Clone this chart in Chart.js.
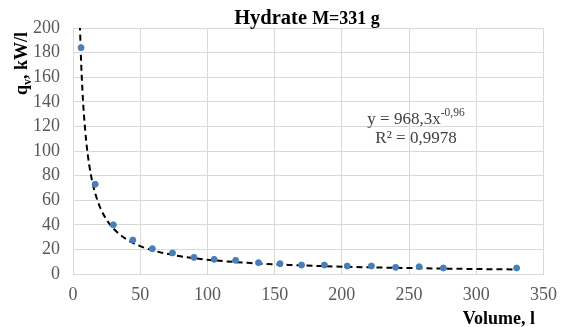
<!DOCTYPE html>
<html>
<head>
<meta charset="utf-8">
<script src="https://cdn.jsdelivr.net/npm/chart.js@4.4.3/dist/chart.umd.min.js"></script>
<style>
  html, body { margin: 0; padding: 0; background: #fff; }
  #wrap { width: 567px; height: 327px; }
</style>
</head>
<body>
<div id="wrap"><canvas id="c" width="567" height="327"></canvas></div>
<script>
// measured points: volume (l) vs specific power (kW/l)
const volume = [6, 16.5, 30, 44.5, 59, 74, 90, 105, 121, 138, 154, 170, 187, 204, 222, 240, 257.5, 275.5, 330];
const power = [184, 73, 40, 27.6, 20.6, 17.1, 13.5, 11.9, 11.1, 9.2, 8.4, 7.3, 7.3, 6.5, 6.5, 5.4, 5.9, 4.9, 4.9];

// power trendline
const trendX = [5.1, 6, 7, 8, 10, 12, 15, 20, 25, 30, 40, 50, 60, 80, 100, 130, 160, 200, 250, 300, 330];
const trendY = [202.7, 173.4, 149.5, 131.5, 106.2, 89.1, 71.9, 54.6, 44.1, 37.0, 28.1, 22.7, 19.0, 14.4, 11.6, 9.05, 7.41, 5.98, 4.83, 4.05, 3.7];

const xTicks = [0, 50, 100, 150, 200, 250, 300, 350];
const yTicks = [0, 20, 40, 60, 80, 100, 120, 140, 160, 180, 200];

const SERIF = "'Liberation Serif', 'Times New Roman', serif";

// ---------- texts drawn on the canvas ----------
const textPlugin = {
  id: "texts",
  afterDraw(chart) {
    const ctx = chart.ctx;
    const area = chart.chartArea;
    ctx.save();
    ctx.fillStyle = "#000";
    ctx.textBaseline = "alphabetic";

    // title: "Hydrate" bigger, "M=331 g" smaller
    const t1 = "Hydrate ", t2 = "M=331 g";
    ctx.font = "bold 20.5px " + SERIF;
    const w1 = ctx.measureText(t1).width;
    ctx.font = "bold 18px " + SERIF;
    const w2 = ctx.measureText(t2).width;
    const tx = 307 - (w1 + w2) / 2;
    ctx.font = "bold 20.5px " + SERIF;
    ctx.textAlign = "left";
    ctx.fillText(t1, tx, 24);
    ctx.font = "bold 18px " + SERIF;
    ctx.fillText(t2, tx + w1, 24);

    // y title, rotated, with subscript v
    ctx.save();
    ctx.translate(27, 95);
    ctx.rotate(-Math.PI / 2);
    ctx.textAlign = "left";
    ctx.font = "bold 18px " + SERIF;
    ctx.fillText("q", 0, 0);
    let x = ctx.measureText("q").width;
    ctx.font = "bold 12px " + SERIF;
    ctx.fillText("v", x, 4);
    x += ctx.measureText("v").width;
    ctx.font = "bold 18px " + SERIF;
    ctx.fillText(", kW/l", x, 0);
    ctx.restore();

    // x title
    ctx.font = "bold 18px " + SERIF;
    ctx.textAlign = "right";
    ctx.fillText("Volume, l", 535, 324);

    // fit annotation
    ctx.fillStyle = "#404040";
    ctx.textAlign = "left";
    ctx.font = "17px " + SERIF;
    const eq = "y = 968,3x";
    const ex = "-0,96";
    const we = ctx.measureText(eq).width;
    ctx.font = "11.5px " + SERIF;
    const wx = ctx.measureText(ex).width;
    const ax = 416 - (we + wx) / 2;
    ctx.font = "17px " + SERIF;
    ctx.fillText(eq, ax, 124);
    ctx.font = "11.5px " + SERIF;
    ctx.fillText(ex, ax + we, 116);
    ctx.font = "17px " + SERIF;
    ctx.textAlign = "center";
    ctx.fillText("R² = 0,9978", 416, 143);
    ctx.restore();
  }
};

new Chart(document.getElementById("c"), {
  type: "scatter",
  data: {
    datasets: [
      {
        label: "trend",
        data: trendX.map((v, i) => ({ x: v, y: trendY[i] })),
        showLine: true,
        borderColor: "#000",
        borderWidth: 2,
        borderDash: [6, 4],
        pointRadius: 0,
        cubicInterpolationMode: "monotone",
        fill: false,
        order: 2,
      },
      {
        label: "data",
        data: volume.map((v, i) => ({ x: v, y: power[i] })),
        backgroundColor: "#4a7ebb",
        borderColor: "#4a7ebb",
        pointRadius: 3,
        order: 1,
      },
    ],
  },
  options: {
    responsive: false,
    animation: false,
    devicePixelRatio: 1,
    layout: { padding: { top: 28, right: 22, left: 0, bottom: 0 } },
    plugins: {
      legend: { display: false },
      tooltip: { enabled: false },
    },
    scales: {
      x: {
        type: "linear",
        min: 0,
        max: 350,
        afterBuildTicks: (s) => { s.ticks = xTicks.map((v) => ({ value: v })); },
        afterFit: (s) => { s.height = 53; },
        grid: { color: "#d9d9d9", drawTicks: false },
        border: { color: "#d9d9d9" },
        ticks: { padding: 10, color: "#595959", font: { family: SERIF, size: 18 } },
      },
      y: {
        type: "linear",
        min: 0,
        max: 200,
        afterBuildTicks: (s) => { s.ticks = yTicks.map((v) => ({ value: v })); },
        afterFit: (s) => { s.width = 73; },
        grid: { color: "#d9d9d9", drawTicks: false },
        border: { color: "#d9d9d9" },
        ticks: { padding: 13, color: "#595959", font: { family: SERIF, size: 18 } },
      },
    },
  },
  plugins: [textPlugin],
});
</script>
</body>
</html>
